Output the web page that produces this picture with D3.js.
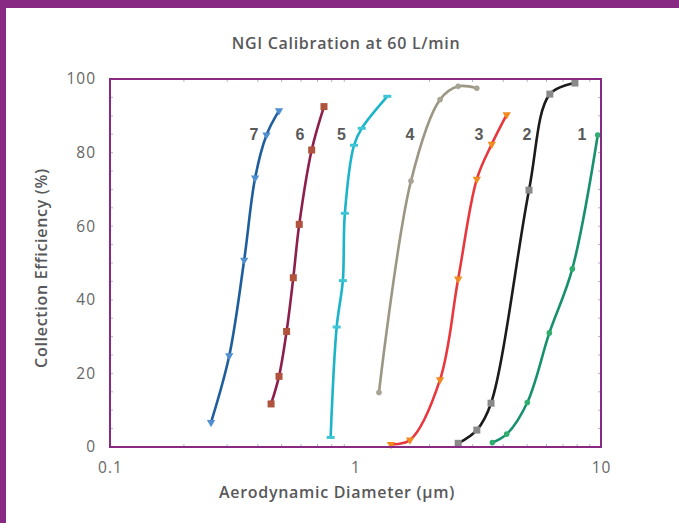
<!DOCTYPE html>
<html><head><meta charset="utf-8">
<script src="https://cdn.jsdelivr.net/npm/d3@7/dist/d3.min.js"></script>
<style>
html,body{margin:0;padding:0;background:#fff;}
svg{display:block;font-family:"Open Sans",Lato,sans-serif;}
</style></head>
<body>
<script>
const title = "NGI Calibration at 60 L/min";
const xTitle = "Aerodynamic Diameter (\u00b5m)";
const yTitle = "Collection Efficiency (%)";
const xTickValues = [0.1, 1, 10];
const xTickLabels = ["0.1", "1", "10"];
const yTickValues = [0, 20, 40, 60, 80, 100];

const stageNames = ["1", "2", "3", "4", "5", "6", "7"];
const stageColors = ["#17906e", "#1b1b1b", "#e8383d", "#9c9784", "#1bb4c9", "#8d1f4d", "#1f5e9c"];
const markerColors = ["#2fae6e", "#8a8a8a", "#f28a1e", "#a8a493", "#3ec6d6", "#b0523c", "#4f8fd0"];
const markerShapes = ["circle", "square", "triangle", "circle", "dash", "square", "triangle"];
const labelX = [8.37, 4.99, 3.18, 1.667, 0.877, 0.594, 0.386];
const labelY = [85, 85, 85, 85, 85, 85, 85];

const stage1D = [3.61, 4.13, 5.01, 6.16, 7.64, 9.70];
const stage1E = [1.2, 3.5, 12.1, 31.0, 48.4, 84.8];
const stage2D = [2.62, 3.12, 3.565, 5.09, 6.19, 7.83];
const stage2E = [1.0, 4.6, 11.9, 69.8, 95.9, 98.9];
const stage3D = [1.395, 1.667, 2.21, 2.62, 3.12, 3.59, 4.13];
const stage3E = [0.7, 1.9, 18.3, 45.7, 72.8, 82.3, 90.3];
const stage4D = [1.246, 1.683, 2.21, 2.62, 3.12];
const stage4E = [14.8, 72.3, 94.4, 98.0, 97.5];
const stage5D = [0.792, 0.838, 0.888, 0.905, 0.986, 1.06, 1.348];
const stage5E = [2.6, 32.6, 45.2, 63.5, 82.0, 86.6, 95.3];
const stage6D = [0.453, 0.488, 0.524, 0.558, 0.590, 0.663, 0.744];
const stage6E = [11.7, 19.2, 31.4, 46.0, 60.5, 80.7, 92.5];
const stage7D = [0.258, 0.306, 0.352, 0.390, 0.434, 0.488];
const stage7E = [6.7, 24.8, 50.8, 73.1, 84.8, 91.4];

const stagesD = [stage1D, stage2D, stage3D, stage4D, stage5D, stage6D, stage7D];
const stagesE = [stage1E, stage2E, stage3E, stage4E, stage5E, stage6E, stage7E];

const W = 679, H = 523;
const purple = "#882a84";
const textCol = "#58585a";
const plot = {left: 110, right: 601, top: 79, bottom: 447};

const svg = d3.select("body").append("svg").attr("width", W).attr("height", H);
svg.append("rect").attr("width", W).attr("height", H).attr("fill", "#fff");
svg.append("rect").attr("x", 0).attr("y", 0).attr("width", W).attr("height", 8).attr("fill", purple);
svg.append("rect").attr("x", 0).attr("y", 0).attr("width", 6).attr("height", H).attr("fill", purple);

const x = d3.scaleLog().domain([0.1, 10]).range([plot.left, plot.right]);
const y = d3.scaleLinear().domain([0, 100]).range([plot.bottom, plot.top]);

// minor ticks
const tickCol = "#a9b8cc";
const minorX = [];
[0.1, 1].forEach(dec => { for (let k = 2; k <= 9; k++) minorX.push(dec * k); });
const minorY = d3.range(5, 100, 5);
const g = svg.append("g");
g.selectAll(".mxb").data(minorX).join("line")
  .attr("x1", d => x(d)).attr("x2", d => x(d))
  .attr("y1", plot.bottom).attr("y2", plot.bottom - 3).attr("stroke", tickCol).attr("stroke-width", 1);
g.selectAll(".mxt").data(minorX).join("line")
  .attr("x1", d => x(d)).attr("x2", d => x(d))
  .attr("y1", plot.top).attr("y2", plot.top + 3).attr("stroke", tickCol).attr("stroke-width", 1);
g.selectAll(".myl").data(minorY).join("line")
  .attr("x1", plot.left).attr("x2", plot.left + 3)
  .attr("y1", d => y(d)).attr("y2", d => y(d)).attr("stroke", tickCol).attr("stroke-width", 1);
g.selectAll(".myr").data(minorY).join("line")
  .attr("x1", plot.right).attr("x2", plot.right - 3)
  .attr("y1", d => y(d)).attr("y2", d => y(d)).attr("stroke", tickCol).attr("stroke-width", 1);

// axes labels via d3 axes
const xAxis = d3.axisBottom(x).tickValues(xTickValues).tickFormat((d, i) => xTickLabels[i]).tickSize(0).tickPadding(15);
const yAxis = d3.axisLeft(y).tickValues(yTickValues).tickSize(0).tickPadding(14);
const gx = svg.append("g").attr("transform", `translate(0,${plot.bottom})`).call(xAxis);
const gy = svg.append("g").attr("transform", `translate(${plot.left},0)`).call(yAxis);
[gx, gy].forEach(a => {
  a.select(".domain").remove();
  a.selectAll("text").attr("fill", "#666").style("font-size", "15.5px")
    .style("letter-spacing", "1px").style("font-family", "'Open Sans',sans-serif");
});

// curves
const line = d3.line().x(d => x(d[0])).y(d => y(d[1])).curve(d3.curveCatmullRom.alpha(0.5));
const sg = svg.append("g");
stagesD.forEach((ds, i) => {
  const pts = ds.map((d, j) => [d, stagesE[i][j]]);
  sg.append("path").attr("d", line(pts)).attr("fill", "none")
    .attr("stroke", stageColors[i]).attr("stroke-width", 2.6).attr("stroke-linecap", "round");
});
// markers
stagesD.forEach((ds, i) => {
  const pts = ds.map((d, j) => [d, stagesE[i][j]]);
  const shp = markerShapes[i];
  const mg = sg.append("g");
  pts.forEach(p => {
    const cx = x(p[0]), cy = y(p[1]);
    if (shp === "circle") {
      mg.append("circle").attr("cx", cx).attr("cy", cy).attr("r", 2.8).attr("fill", markerColors[i]);
    } else if (shp === "square") {
      mg.append("rect").attr("x", cx - 3.5).attr("y", cy - 3.5).attr("width", 7).attr("height", 7).attr("fill", markerColors[i]);
    } else if (shp === "triangle") {
      mg.append("path").attr("d", d3.symbol(d3.symbolTriangle, 30)()).attr("transform", `translate(${cx},${cy}) rotate(180)`).attr("fill", markerColors[i]);
    } else if (shp === "dash") {
      mg.append("rect").attr("x", cx - 4).attr("y", cy - 1.5).attr("width", 8).attr("height", 3).attr("fill", markerColors[i]);
    }
  });
});

// stage labels
svg.append("g").selectAll("text").data(stageNames).join("text")
  .attr("x", (d, i) => x(labelX[i])).attr("y", (d, i) => y(labelY[i]))
  .attr("text-anchor", "middle").attr("dominant-baseline", "central")
  .attr("fill", "#5a5a5a").style("font-size", "16px").style("font-weight", "bold")
  .style("font-family", "'Liberation Sans',Arial,sans-serif")
  .style("paint-order", "stroke").attr("stroke", "#fff").attr("stroke-width", 3)
  .text(d => d);

// plot border
svg.append("rect").attr("x", plot.left).attr("y", plot.top)
  .attr("width", plot.right - plot.left).attr("height", plot.bottom - plot.top)
  .attr("fill", "none").attr("stroke", purple).attr("stroke-width", 2);

// titles
const titleStyle = sel => sel.attr("fill", textCol).style("font-size", "16px").style("font-weight", 600).style("letter-spacing", "0.7px");
svg.append("text").attr("x", 346).attr("y", 49).attr("text-anchor", "middle").call(titleStyle).text(title);
svg.append("text").attr("x", 337).attr("y", 498).attr("text-anchor", "middle").call(titleStyle).text(xTitle);
svg.append("text").attr("transform", `translate(47,268) rotate(-90)`).attr("text-anchor", "middle").call(titleStyle).text(yTitle);
</script>
</body></html>
